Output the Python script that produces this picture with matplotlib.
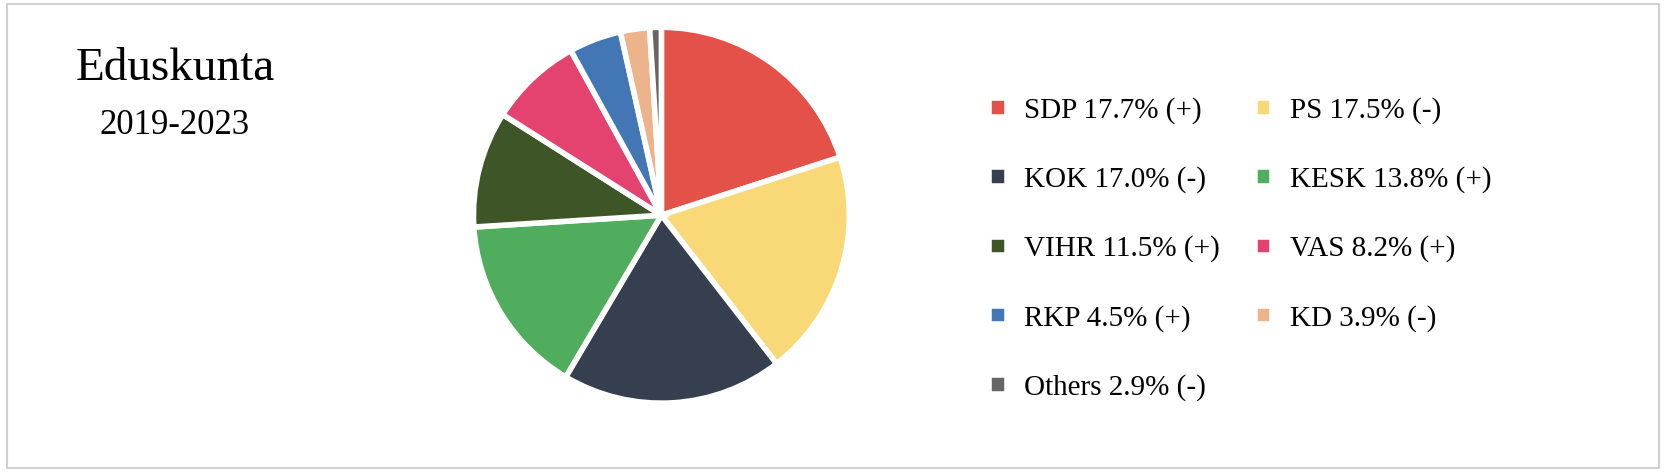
import matplotlib.pyplot as plt
from matplotlib.patches import Rectangle

parties = ['SDP', 'PS', 'KOK', 'KESK', 'VIHR', 'VAS', 'RKP', 'KD', 'Others']
seats = [40, 39, 38, 31, 20, 16, 9, 5, 2]
labels = ['SDP 17.7% (+)', 'PS 17.5% (-)', 'KOK 17.0% (-)', 'KESK 13.8% (+)',
          'VIHR 11.5% (+)', 'VAS 8.2% (+)', 'RKP 4.5% (+)', 'KD 3.9% (-)', 'Others 2.9% (-)']
colors = ['#E45149', '#F9D877', '#353F4F', '#50AD5E', '#3E5527',
          '#E4436F', '#4276B5', '#EDB48B', '#666666']

plt.rcParams['font.family'] = ['Liberation Serif', 'DejaVu Serif']
fig = plt.figure(figsize=(16.66, 4.72), dpi=100)
fig.patches.append(Rectangle((0.004, 0.008), 0.992, 0.984, transform=fig.transFigure,
                             fill=False, edgecolor='#d0d0d0', linewidth=1.5))

w, h = 0.282, 0.996
ax = fig.add_axes([0.397 - w / 2, 0.544 - h / 2, w, h])
wedges, _ = ax.pie(seats, colors=colors, startangle=90, counterclock=False,
                   wedgeprops=dict(edgecolor='white', linewidth=4))
ax.set_aspect('equal')

fig.text(0.105, 0.855, 'Eduskunta', fontsize=34, ha='center', va='center')
fig.text(0.105, 0.735, '2019-2023', fontsize=25, ha='center', va='center')

# legend is filled column by column: put rows in the right order
order = [0, 2, 4, 6, 8, 1, 3, 5, 7]
fig.legend([wedges[i] for i in order], [labels[i] for i in order],
           loc='upper left', bbox_to_anchor=(0.578, 0.85), ncol=2,
           frameon=False, fontsize=21, handlelength=0.6, handleheight=0.6,
           handletextpad=0.6, columnspacing=1.2, labelspacing=1.45)

fig.savefig('out.png', dpi=100)
